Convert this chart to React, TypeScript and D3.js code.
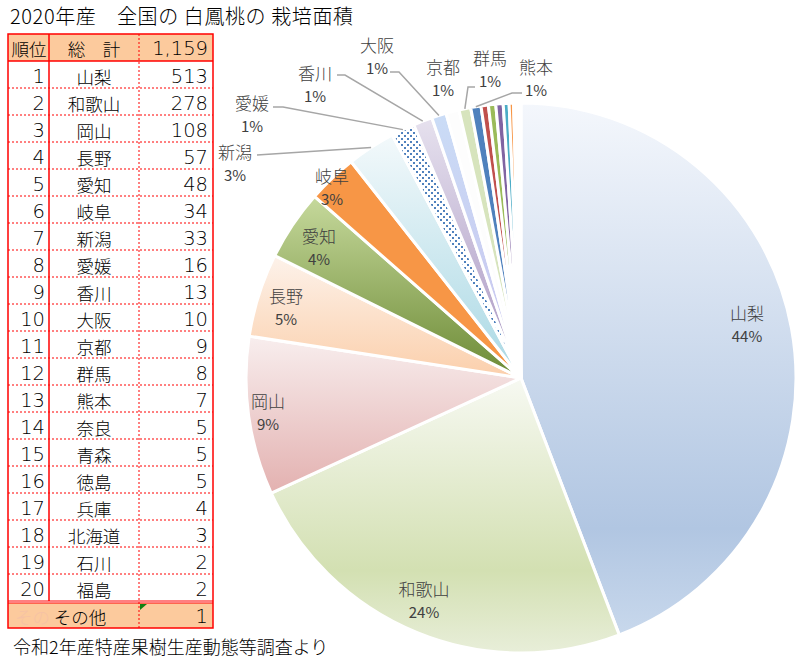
import React from 'react';
import * as d3 from 'd3';

const title = '2020年産\u3000全国の 白鳳桃の 栽培面積';
const footnote = '令和2年産特産果樹生産動態等調査より';
const headerRank = '順位';
const headerName = '総\u3000計';
const headerTotal = '1,159';

const prefectures = ['山梨', '和歌山', '岡山', '長野', '愛知', '岐阜', '新潟', '愛媛', '香川', '大阪', '京都', '群馬', '熊本', '奈良', '青森', '徳島', '兵庫', '北海道', '石川', '福島'];
const areas = [513, 278, 108, 57, 48, 34, 33, 16, 13, 10, 9, 8, 7, 5, 5, 5, 4, 3, 2, 2];
const otherName = 'その他';
const otherArea = 1;

// styling (fills per slice, in pie order)
const sliceFills = ['url(#g0)', 'url(#g1)', 'url(#g2)', 'url(#g3)', 'url(#g4)', '#f79646', 'url(#g6)', 'url(#dots)', 'url(#g8)', 'url(#g9)', '#fdfdfd', '#d7e4bd', '#4f81bd', '#c0504d', '#9bbb59', '#8064a2', '#4bacc6', '#f79646', '#fbe3d2', '#f4f4f4', '#ffffff'];
const gradients = [
  { id: 'g0', stops: [[0, '#f4f7fc'], [0.8, '#b1c6e2'], [1, '#c8d8ec']] },
  { id: 'g1', stops: [[0, '#f7f9f2'], [0.7, '#d3e0b2'], [1, '#e8eed9']] },
  { id: 'g2', stops: [[0, '#f8eeee'], [1, '#e3b1b0']] },
  { id: 'g3', stops: [[0, '#fdf2ea'], [1, '#fbcfab']] },
  { id: 'g4', stops: [[0, '#c6d99c'], [1, '#6c8a35']] },
  { id: 'g6', stops: [[0, '#f3f9fb'], [1, '#a9d8e4']] },
  { id: 'g8', stops: [[0, '#e6e1ee'], [1, '#a895c1']] },
  { id: 'g9', stops: [[0, '#cadcf6'], [1, '#c9c3ee']] },
];

// label layout (name centre) for labelled slices
const labelPos: [number, number][] = [[747, 312], [424, 588], [268, 400], [286, 295], [319, 235], [332, 175], [235, 151], [252, 102], [315, 72], [377, 44], [443, 66], [490, 57], [536, 66]];
// leader lines: index -> start point and elbow x
const leaders: { i: number; sx: number; sy: number; ex: number | null }[] = [
  { i: 6, sx: 257, sy: 155, ex: null },
  { i: 7, sx: 273, sy: 107, ex: 283 },
  { i: 8, sx: 337, sy: 75, ex: 345 },
  { i: 9, sx: 390, sy: 72, ex: 399 },
  { i: 11, sx: 475, sy: 87, ex: 468 },
  { i: 12, sx: 522, sy: 93, ex: 512 },
];

const W = 804, H = 669;
const cx = 521, cy = 378, R = 275;
const CJK = '"Noto Sans CJK JP", sans-serif';
const NUM = '"DejaVu Sans", sans-serif';

export default function App() {
  const names = [...prefectures, otherName];
  const vals = [...areas, otherArea];
  const total = d3.sum(vals);
  const pie = d3.pie<number>().sort(null).value((d) => d)(vals);
  const arc = d3.arc<d3.PieArcDatum<number>>().innerRadius(0).outerRadius(R);
  const anchor = (a: d3.PieArcDatum<number>) => {
    const m = (a.startAngle + a.endAngle) / 2;
    return [cx + R * Math.sin(m), cy - R * Math.cos(m)];
  };

  // table geometry
  const tx0 = 8, tx1 = 49, tx2 = 139, tx3 = 213;
  const ty0 = 34, hh = 27, rh = 27;
  const yRow = d3.scaleLinear().domain([0, 1]).range([ty0 + hh, ty0 + hh + rh]);
  const rowsBottom = yRow(prefectures.length);
  const otherTop = rowsBottom + 2;
  const otherBottom = otherTop + 25;
  const red = '#ff0000';

  return (
    <svg width={W} height={H} style={{ position: 'absolute', left: 0, top: 0, background: '#fff' }}>
      <defs>
        {gradients.map((g) => (
          <linearGradient key={g.id} id={g.id} x1="0" y1="0" x2="0" y2="1">
            {g.stops.map(([o, c], k) => (
              <stop key={k} offset={o as number} stopColor={c as string} />
            ))}
          </linearGradient>
        ))}
        <pattern id="dots" width="6" height="6" patternUnits="userSpaceOnUse">
          <rect width="6" height="6" fill="#ffffff" />
          <rect x="0" y="0" width="2" height="2" fill="#4f81bd" />
          <rect x="3" y="3" width="2" height="2" fill="#4f81bd" />
        </pattern>
      </defs>

      <text x={10} y={15} dominantBaseline="central" fontFamily={CJK} fontSize={20} fontWeight={300} letterSpacing={0.6} fill="#000">{title}</text>

      {/* table */}
      <rect x={tx0} y={ty0} width={tx3 - tx0} height={hh} fill="#fcca9d" />
      <rect x={tx0} y={otherTop} width={tx3 - tx0} height={otherBottom - otherTop} fill="#fcca9d" />
      {prefectures.map((p, i) => (
        i > 0 ? <line key={'h' + i} x1={tx0} x2={tx3} y1={yRow(i)} y2={yRow(i)} stroke={red} strokeWidth={1} strokeDasharray="2,2" /> : null
      ))}
      <line x1={tx0} x2={tx3} y1={ty0 + hh} y2={ty0 + hh} stroke={red} strokeWidth={1.5} />
      <line x1={tx0} x2={tx3} y1={rowsBottom} y2={rowsBottom} stroke={red} strokeWidth={1.2} />
      <line x1={tx0} x2={tx3} y1={otherTop} y2={otherTop} stroke={red} strokeWidth={1.2} />
      <line x1={tx1} x2={tx1} y1={ty0} y2={rowsBottom} stroke={red} strokeWidth={1.5} />
      <line x1={tx2} x2={tx2} y1={ty0} y2={otherBottom} stroke={red} strokeWidth={1} strokeDasharray="2,2" />
      <rect x={tx0} y={ty0} width={tx3 - tx0} height={otherBottom - ty0} fill="none" stroke={red} strokeWidth={1.5} />

      <g fontWeight={300}>
        <text x={29} y={ty0 + hh / 2 + 1} textAnchor="middle" dominantBaseline="central" fontFamily={CJK} fontSize={17.5}>{headerRank}</text>
        <text x={94} y={ty0 + hh / 2 + 1} textAnchor="middle" dominantBaseline="central" fontFamily={CJK} fontSize={17.5}>{headerName}</text>
        <text x={208} y={ty0 + hh / 2 + 1} textAnchor="end" dominantBaseline="central" fontFamily={NUM} fontWeight={200} fontSize={19.5}>{headerTotal}</text>
        {prefectures.map((p, i) => {
          const yc = (yRow(i) + yRow(i + 1)) / 2 + 1.5;
          return (
            <g key={'r' + i}>
              <text x={45} y={yc} textAnchor="end" dominantBaseline="central" fontFamily={NUM} fontWeight={200} fontSize={19.5}>{i + 1}</text>
              <text x={94} y={yc} textAnchor="middle" dominantBaseline="central" fontFamily={CJK} fontSize={17.5}>{p}</text>
              <text x={208} y={yc} textAnchor="end" dominantBaseline="central" fontFamily={NUM} fontWeight={200} fontSize={19.5}>{d3.format(',')(areas[i])}</text>
            </g>
          );
        })}
        <text x={15} y={(otherTop + otherBottom) / 2 + 1} dominantBaseline="central" fontFamily={CJK} fontSize={17.5} fill="#f6c2a4">その</text>
        <text x={80} y={(otherTop + otherBottom) / 2 + 1} textAnchor="middle" dominantBaseline="central" fontFamily={CJK} fontSize={17.5}>{otherName}</text>
        <text x={208} y={(otherTop + otherBottom) / 2 + 1} textAnchor="end" dominantBaseline="central" fontFamily={NUM} fontWeight={200} fontSize={19.5}>{otherArea}</text>
      </g>
      <path d={`M${tx2 + 1},${otherTop + 1}h7l-7,6z`} fill="#128012" />

      <text x={13} y={646} dominantBaseline="central" fontFamily={CJK} fontSize={18} fontWeight={300} fill="#000">{footnote}</text>

      {/* pie */}
      <g transform={`translate(${cx},${cy})`}>
        {pie.map((a, i) => (
          <path key={'s' + i} d={arc(a) || ''} fill={sliceFills[i]} stroke="#ffffff" strokeWidth={3} strokeLinejoin="round" />
        ))}
      </g>

      {leaders.map((l) => {
        const [ax, ay] = anchor(pie[l.i]);
        const pts = l.ex === null ? `${l.sx},${l.sy} ${ax},${ay}` : `${l.sx},${l.sy} ${l.ex},${l.sy} ${ax},${ay}`;
        return <polyline key={'l' + l.i} points={pts} fill="none" stroke="#a6a6a6" strokeWidth={1.5} />;
      })}

      {labelPos.map(([x, y], i) => (
        <g key={'t' + i} fontFamily={CJK} fill="#404040" textAnchor="middle">
          <text x={x} y={y} dominantBaseline="central" fontSize={17} fontWeight={300}>{names[i]}</text>
          <text x={x} y={y + 23} dominantBaseline="central" fontSize={15} fontWeight={400}>{Math.round((vals[i] / total) * 100) + '%'}</text>
        </g>
      ))}
    </svg>
  );
}
